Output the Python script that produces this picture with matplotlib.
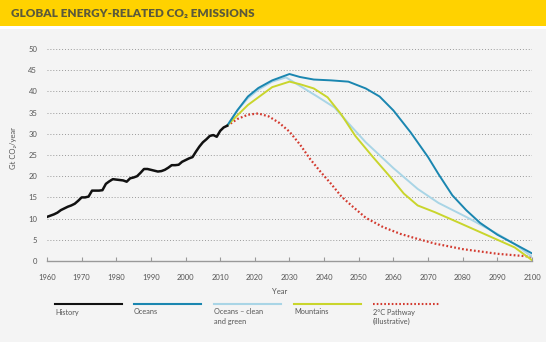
import matplotlib
matplotlib.use("Agg")
import matplotlib.pyplot as plt
from matplotlib.patches import Rectangle
from matplotlib.lines import Line2D

plt.rcParams['font.family'] = ['Lato', 'DejaVu Sans']

# historic emissions, Gt CO2 per year
history_years = list(range(1960, 2013))
history_vals = [10.4, 10.7, 11.0, 11.4, 12.0, 12.4, 12.8, 13.1, 13.5, 14.2,
                15.0, 15.0, 15.2, 16.6, 16.6, 16.6, 16.7, 18.2, 18.8, 19.3,
                19.2, 19.1, 19.0, 18.7, 19.5, 19.7, 20.0, 20.8, 21.7, 21.7,
                21.5, 21.3, 21.1, 21.2, 21.5, 22.0, 22.6, 22.6, 22.7, 23.4,
                23.8, 24.2, 24.5, 25.8, 27.0, 28.0, 28.7, 29.5, 29.7, 29.3,
                30.7, 31.5, 31.9]

oceans_years = [2012, 2015, 2018, 2021, 2025, 2030, 2033, 2037, 2042, 2047, 2052,
                2056, 2060, 2065, 2070, 2073, 2077, 2081, 2085, 2090, 2095, 2100]
oceans_vals = [31.9, 35.6, 38.8, 40.8, 42.6, 44.1, 43.4, 42.8, 42.6, 42.3, 40.7,
               38.8, 35.5, 30.3, 24.5, 20.5, 15.5, 12.0, 9.0, 6.2, 4.0, 1.8]

clean_years = [2012, 2015, 2018, 2021, 2025, 2029, 2033, 2038, 2043, 2047, 2052,
               2060, 2067, 2073, 2081, 2090, 2095, 2100]
clean_vals = [31.9, 35.6, 38.4, 40.4, 42.3, 43.3, 41.3, 38.8, 36.2, 32.5, 28.0,
              21.9, 17.0, 13.7, 10.4, 6.4, 4.0, 1.0]

mountains_years = [2012, 2015, 2018, 2021, 2025, 2030, 2033, 2037, 2041, 2045, 2049,
                   2054, 2059, 2063, 2067, 2072, 2079, 2087, 2095, 2100]
mountains_vals = [31.9, 34.4, 36.8, 38.6, 41.0, 42.3, 41.7, 40.7, 38.6, 34.5, 29.5,
                  24.6, 19.9, 15.9, 13.1, 11.5, 9.0, 6.1, 3.2, 0.2]

pathway_years = [2012, 2015, 2018, 2021, 2024, 2027, 2030, 2033, 2036, 2039, 2042,
                 2045, 2048, 2052, 2057, 2062, 2067, 2072, 2080, 2090, 2100]
pathway_vals = [31.9, 33.5, 34.5, 34.8, 34.1, 32.6, 30.5, 27.5, 24.0, 21.0, 18.2,
                15.2, 13.0, 10.2, 8.0, 6.4, 5.2, 4.1, 2.8, 1.7, 1.0]

x_ticks = list(range(1960, 2101, 10))
y_ticks = list(range(0, 51, 5))

legend_labels = ["History", "Oceans", "Oceans \u2013 clean\nand green",
                 "Mountains", "2\u00b0C Pathway\n(illustrative)"]

bg = "#f4f4f4"
c_hist = "#111111"
c_oceans = "#1a86b0"
c_clean = "#a9d5e6"
c_mount = "#c9d52c"
c_path = "#d33a2f"
txt = "#555555"

fig = plt.figure(figsize=(5.46, 3.42), dpi=100, facecolor=bg)

# header band
fig.patches.append(Rectangle((0, 1 - 26 / 342), 1, 26 / 342, transform=fig.transFigure,
                             facecolor="#ffd200", edgecolor="none", zorder=0))
fig.patches.append(Rectangle((0, 1 - 29 / 342), 1, 3 / 342, transform=fig.transFigure,
                             facecolor="white", edgecolor="none", zorder=0))
fig.text(11 / 546, 1 - 14 / 342, "GLOBAL ENERGY-RELATED CO\u2082 EMISSIONS",
         fontsize=8.5, fontweight="heavy", color="#5c5a3a", va="center", ha="left")

ax = fig.add_axes([47 / 546, 1 - 261 / 342, 485 / 546, 212 / 342])
ax.set_facecolor(bg)

ax.plot(history_years, history_vals, color=c_hist, lw=1.8, zorder=5)
ax.plot(oceans_years, oceans_vals, color=c_oceans, lw=1.4, zorder=4)
ax.plot(clean_years, clean_vals, color=c_clean, lw=1.4, zorder=3)
ax.plot(mountains_years, mountains_vals, color=c_mount, lw=1.4, zorder=3)
ax.plot(pathway_years, pathway_vals, color=c_path, lw=1.6, ls=(0, (0.8, 1.0)), zorder=2)

ax.set_xlim(1960, 2100)
ax.set_ylim(0, 50)
ax.set_xticks(x_ticks)
ax.set_yticks(y_ticks)
ax.tick_params(axis="x", direction="in", length=3, color="#999999", labelsize=5.5,
               labelcolor=txt, pad=9)
ax.tick_params(axis="y", length=0, labelsize=5.5, labelcolor=txt, pad=7)
for s in ["top", "right", "left"]:
    ax.spines[s].set_visible(False)
ax.spines["bottom"].set_color("#999999")
ax.spines["bottom"].set_linewidth(1.0)
for y in y_ticks[1:]:
    ax.axhline(y, color="#9a9a9a", lw=0.7, ls=(0, (1, 2)), zorder=1)

ax.set_ylabel("Gt CO\u2082/year", fontsize=5.5, color=txt)
ax.yaxis.set_label_coords(-30 / 485, 113 / 212)
fig.text(280 / 546, 1 - 291 / 342, "Year", fontsize=5.5, color=txt, ha="center", va="center")

# legend row below the plot
leg = fig.add_axes([0, 0, 1, 1], facecolor="none")
leg.set_xlim(0, 546)
leg.set_ylim(342, 0)
leg.axis("off")
leg_x = [55, 134, 214, 294, 373]
leg_colors = [c_hist, c_oceans, c_clean, c_mount, c_path]
for x0, col, lab in zip(leg_x, leg_colors, legend_labels):
    ls = (0, (0.8, 1.0)) if col == c_path else "-"
    leg.add_line(Line2D([x0, x0 + 67], [303.5, 303.5], color=col, lw=1.5, ls=ls))
    leg.text(x0, 308.5, lab, fontsize=5.3, color=txt, ha="left", va="top", linespacing=1.4)

fig.savefig("out.png", dpi=100, facecolor=bg)
